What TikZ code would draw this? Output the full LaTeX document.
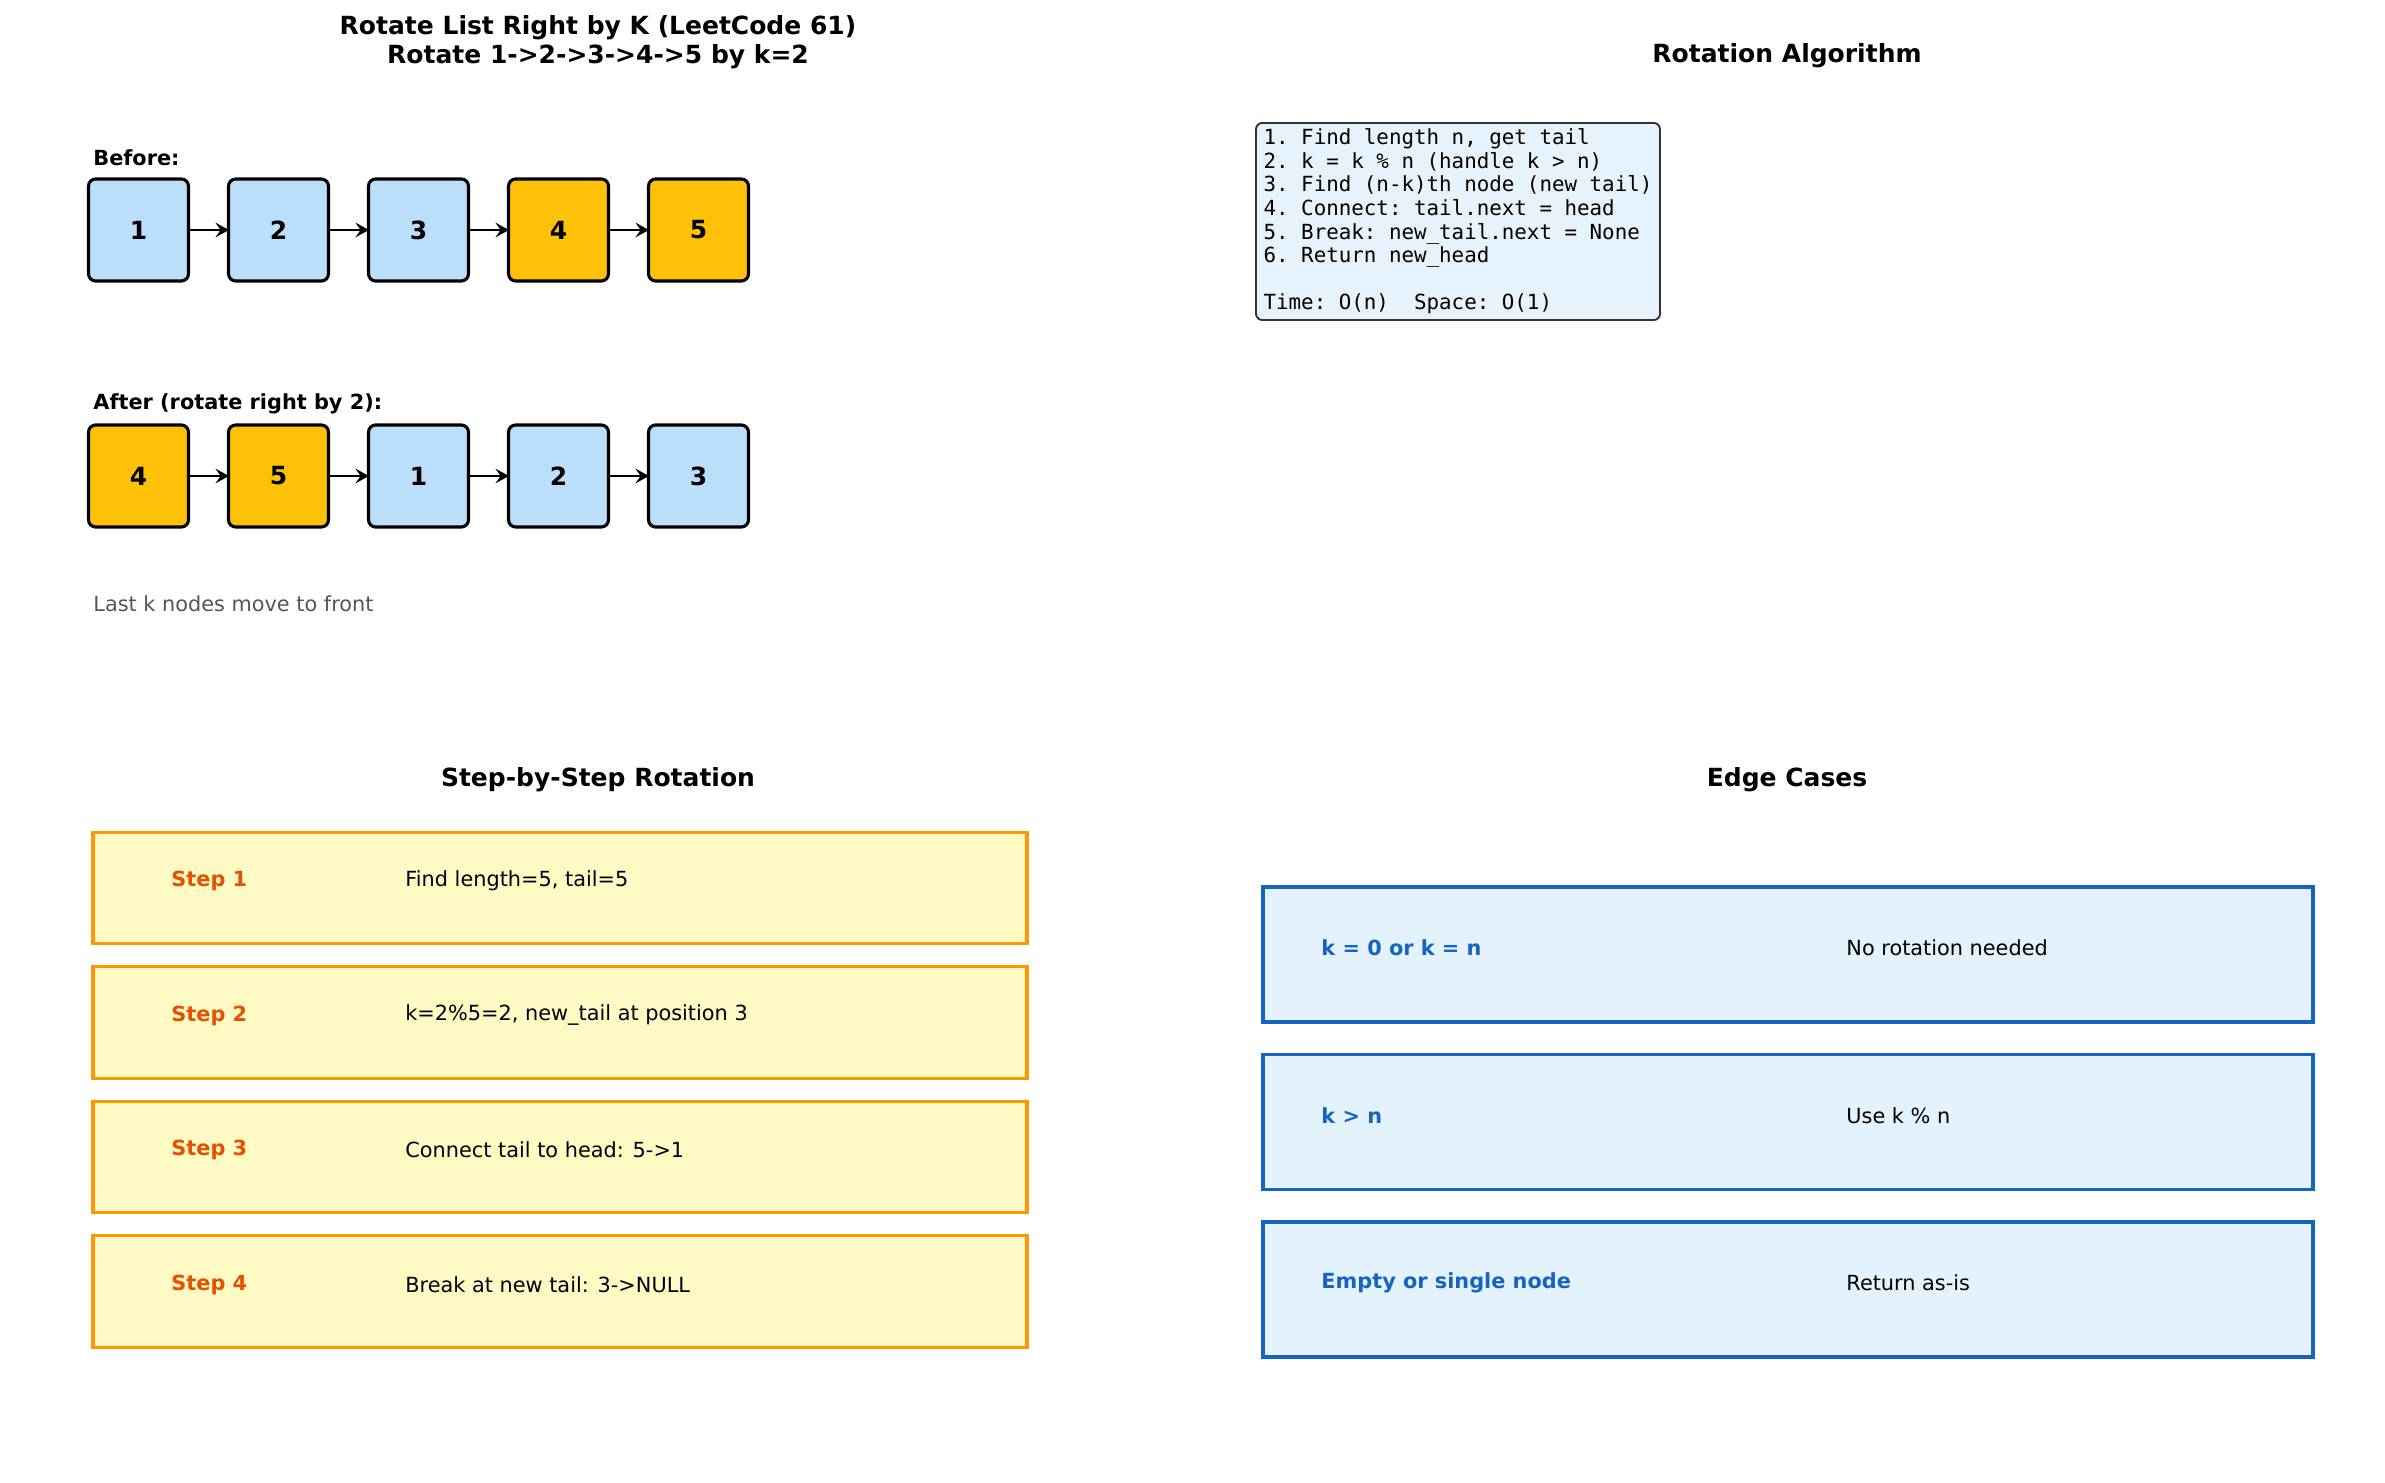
\documentclass[tikz,border=0pt]{standalone}
\usepackage{fontspec}
\setmainfont{DejaVu Sans}
\setmonofont{DejaVu Sans Mono}
\usepackage{tikz}
\usetikzlibrary{positioning,arrows.meta,calc}
\usepackage{xcolor}
\definecolor{listblue}{HTML}{BBDEFB}
\definecolor{listgold}{HTML}{FFC107}
\definecolor{stepfill}{HTML}{FFF9C4}
\definecolor{stepdraw}{HTML}{FF9800}
\definecolor{steptext}{HTML}{E65100}
\definecolor{edgefill}{HTML}{E3F2FD}
\definecolor{edgedraw}{HTML}{1565C0}
\definecolor{algofill}{HTML}{E6F2FC}
\definecolor{notegray}{HTML}{555555}

\begin{document}
\begin{tikzpicture}[x=0.48pt, y=-0.48pt,
    title/.style={font=\bfseries\fontsize{12}{13.7}\selectfont, align=center},
    lnode/.style={draw, line width=1.5pt, rounded corners=3.5pt, minimum width=48pt,
      minimum height=49pt, inner sep=0pt, font=\bfseries\fontsize{12}{14}\selectfont},
    arr/.style={-{Stealth[length=6.5pt,width=7pt,inset=2.5pt]}, line width=1.4pt, shorten >=-1pt},
    lbl/.style={anchor=west, inner sep=0pt, font=\bfseries\fontsize{10}{12}\selectfont},
    txt/.style={anchor=west, inner sep=0pt, font=\fontsize{10}{12}\selectfont},
    stepbox/.style={draw=stepdraw, fill=stepfill, line width=1.5pt, minimum width=448.3pt,
      minimum height=53.6pt, inner sep=0pt},
    edgebox/.style={draw=edgedraw, fill=edgefill, line width=1.5pt, minimum width=504pt,
      minimum height=64.8pt, inner sep=0pt}]
  \useasboundingbox (0,0) rectangle (2385,1483);

  % Titles
  \node[title] (maintitle) at (598,42) {Rotate List Right by K (LeetCode 61)\\Rotate 1->2->3->4->5 by k=2};
  \node[title] (algotitle) at (1787,56) {Rotation Algorithm};
  \node[title] (steptitle) at (598,780) {Step-by-Step Rotation};
  \node[title] (edgetitle) at (1787,780) {Edge Cases};

  % Before: 1->2->3->4->5
  \node[lbl] (before) at (93,158) {Before:};
  \foreach \v/\c [count=\i] in {1/listblue,2/listblue,3/listblue,4/listgold,5/listgold}
    \node[lnode, fill=\c] (b\i) at ({140*\i-1.5},230) {\v};
  \foreach \i/\j in {1/2,2/3,3/4,4/5}
    \draw[arr] (b\i) -- (b\j);

  % After: 4->5->1->2->3
  \node[lbl] (after) at (93,404) {After (rotate right by 2):};
  \foreach \v/\c [count=\i] in {4/listgold,5/listgold,1/listblue,2/listblue,3/listblue}
    \node[lnode, fill=\c] (a\i) at ({140*\i-1.5},476) {\v};
  \foreach \i/\j in {1/2,2/3,3/4,4/5}
    \draw[arr] (a\i) -- (a\j);

  \node[txt, text=notegray] (note) at (93,604) {Last k nodes move to front};

  % Algorithm box
  \node[draw=black!80, fill=algofill, line width=0.9pt, rounded corners=3pt, align=left,
    minimum width=193.9pt, minimum height=94.6pt, inner sep=0pt,
    font=\ttfamily\fontsize{10}{11.3}\selectfont] (algo) at (1458,221.5)
    {1. Find length n, get tail\\
     2. k = k \% n (handle k > n)\\
     3. Find (n-k)th node (new tail)\\
     4. Connect: tail.next = head\\
     5. Break: new\_tail.next = None\\
     6. Return new\_head\\[11.3pt]
     Time: O(n)\ \ Space: O(1)};

  % Steps
  \foreach \t [count=\i] in {{Find length=5, tail=5},{k=2\%5=2, new\_tail at position 3},
      {Connect tail to head: 5->1},{Break at new tail: 3->NULL}} {
    \node[stepbox] (step\i) at (560,{888+134.5*(\i-1)}) {};
    \node[lbl, text=steptext] (steplbl\i) at (171,{881+134.5*(\i-1)}) {Step \i};
    \node[txt] (steptxt\i) at (405,{881+134.5*(\i-1)}) {\t};
  }

  % Edge cases
  \foreach \k/\d [count=\i] in {{k = 0 or k = n}/{No rotation needed},{k > n}/{Use k \% n},
      {Empty or single node}/{Return as-is}} {
    \node[edgebox] (edge\i) at (1788,{954.5+167.5*(\i-1)}) {};
    \node[lbl, text=edgedraw] (edgelbl\i) at (1321,{948+167.5*(\i-1)}) {\k};
    \node[txt] (edgetxt\i) at (1846,{948+167.5*(\i-1)}) {\d};
  }
\end{tikzpicture}
\end{document}
